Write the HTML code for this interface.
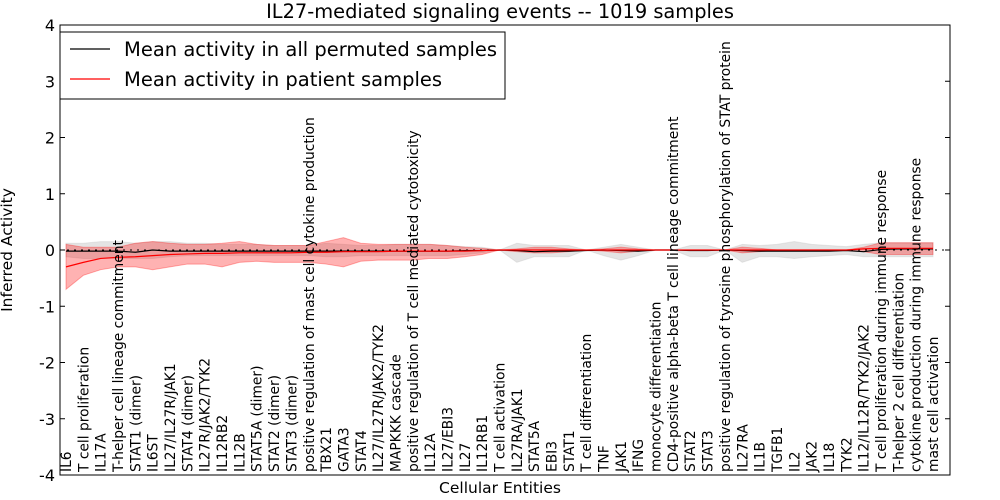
<!DOCTYPE html>
<html><head><meta charset="utf-8"><style>
body{margin:0;background:#fff;}
svg{display:block;font-family:"DejaVu Sans","Liberation Sans",sans-serif;}
</style></head><body>
<svg id="chart" width="1000" height="500"></svg>
<script>
const categories=["IL6","T cell proliferation","IL17A","T-helper cell lineage commitment","STAT1 (dimer)","IL6ST","IL27/IL27R/JAK1","STAT4 (dimer)","IL27R/JAK2/TYK2","IL12RB2","IL12B","STAT5A (dimer)","STAT2 (dimer)","STAT3 (dimer)","positive regulation of mast cell cytokine production","TBX21","GATA3","STAT4","IL27/IL27R/JAK2/TYK2","MAPKKK cascade","positive regulation of T cell mediated cytotoxicity","IL12A","IL27/EBI3","IL27","IL12RB1","T cell activation","IL27RA/JAK1","STAT5A","EBI3","STAT1","T cell differentiation","TNF","JAK1","IFNG","monocyte differentiation","CD4-positive alpha-beta T cell lineage commitment","STAT2","STAT3","positive regulation of tyrosine phosphorylation of STAT protein","IL27RA","IL1B","TGFB1","IL2","JAK2","IL18","TYK2","IL12/IL12R/TYK2/JAK2","T cell proliferation during immune response","T-helper 2 cell differentiation","cytokine production during immune response","mast cell activation"];
const redMean=[-0.3,-0.22,-0.15,-0.13,-0.12,-0.1,-0.08,-0.07,-0.06,-0.06,-0.05,-0.05,-0.05,-0.05,-0.04,-0.04,-0.03,-0.03,-0.03,-0.02,-0.02,-0.02,-0.02,-0.02,-0.01,0,0,0,0,0,0,0,0,0,0,0,0,0,0,0,0,0,0,0,0,0,0.02,0.03,0.03,0.03,0.03];
const redUp=[0.1,0.05,0.05,0.05,0.12,0.15,0.12,0.1,0.1,0.12,0.15,0.1,0.08,0.08,0.08,0.15,0.22,0.12,0.1,0.1,0.1,0.1,0.08,0.05,0.03,0,0.02,0.05,0.05,0.02,0,0.02,0.05,0.02,0,0,0,0,0,0.05,0.03,0,0,0,0,0,0.05,0.13,0.13,0.13,0.13];
const redLo=[-0.7,-0.45,-0.35,-0.3,-0.3,-0.35,-0.3,-0.25,-0.25,-0.3,-0.22,-0.2,-0.22,-0.22,-0.22,-0.25,-0.3,-0.2,-0.18,-0.18,-0.18,-0.15,-0.15,-0.12,-0.08,0,-0.03,-0.05,-0.05,-0.03,0,-0.02,-0.05,-0.02,0,0,0,0,0,-0.05,-0.03,0,0,0,0,0,-0.03,-0.08,-0.08,-0.08,-0.08];
const grayMean=[-0.02,-0.02,-0.02,-0.02,-0.04,0,-0.02,-0.02,-0.02,-0.02,-0.02,-0.02,-0.02,-0.02,-0.02,-0.02,-0.02,-0.02,-0.02,-0.02,-0.02,-0.02,-0.02,-0.01,-0.01,0,-0.01,-0.03,-0.02,-0.02,-0.01,0,-0.01,-0.02,0,0,-0.01,-0.01,0,-0.01,-0.02,-0.02,-0.02,-0.02,-0.02,-0.01,-0.03,0.01,0.02,0.02,0.02];
const grayUp=[0.12,0.12,0.15,0.15,0.12,0.15,0.15,0.12,0.12,0.1,0.1,0.1,0.08,0.08,0.08,0.12,0.1,0.08,0.08,0.1,0.1,0.1,0.08,0.06,0.05,0,0.12,0.08,0.08,0.08,0,0.05,0.1,0.05,0,0,0.08,0.08,0,0.1,0.08,0.1,0.15,0.1,0.08,0.06,0.1,0.13,0.13,0.13,0.13];
const grayLo=[-0.12,-0.15,-0.15,-0.15,-0.15,-0.15,-0.12,-0.1,-0.1,-0.1,-0.1,-0.1,-0.1,-0.1,-0.1,-0.12,-0.12,-0.1,-0.1,-0.1,-0.1,-0.1,-0.1,-0.08,-0.05,0,-0.22,-0.12,-0.12,-0.12,0,-0.1,-0.18,-0.1,0,0,-0.12,-0.12,0,-0.22,-0.12,-0.12,-0.15,-0.12,-0.1,-0.08,-0.12,-0.12,-0.12,-0.12,-0.12];
const yTicks=[-4,-3,-2,-1,0,1,2,3,4];
const NS="http://www.w3.org/2000/svg";
const svg=document.getElementById('chart');
const L=60,R=950,T=25,B=475;
const xs=i=>66+i*(933-66)/(categories.length-1);
const ys=v=>250-v*(B-T)/8;
function mk(t,a,p){const e=document.createElementNS(NS,t);for(const k in a)e.setAttribute(k,a[k]);(p||svg).appendChild(e);return e;}
function band(up,lo,fill,op,name){let d='M'+up.map((v,i)=>xs(i)+','+ys(v)).join('L');for(let i=lo.length-1;i>=0;i--)d+='L'+xs(i)+','+ys(lo[i]);d+='Z';const e=mk('path',{d:d,fill:fill,'fill-opacity':op,stroke:fill,'stroke-opacity':0.3});

}
band(grayUp,grayLo,'#bbbbbb',0.4,'permuted-band');
band(redUp,redLo,'#ff0000',0.3,'patient-band');
const z=mk('line',{x1:L,x2:R,y1:ys(0),y2:ys(0),stroke:'#000','stroke-dasharray':'2,5'});


function line(arr,col,name){const e=mk('path',{d:'M'+arr.map((v,i)=>xs(i)+','+ys(v)).join('L'),fill:'none',stroke:col,'stroke-width':1.2});

}
line(grayMean,'#000','permuted-mean-line');
line(redMean,'#ff0000','patient-mean-line');
const fr=mk('rect',{x:L,y:T,width:R-L,height:B-T,fill:'none',stroke:'#000'});


yTicks.forEach(v=>{mk('line',{x1:L,x2:L+5,y1:ys(v),y2:ys(v),stroke:'#000'});mk('line',{x1:R-5,x2:R,y1:ys(v),y2:ys(v),stroke:'#000'});
const t=mk('text',{x:L-5,y:ys(v)+6,'text-anchor':'end','font-size':16});t.textContent=v;

});
categories.forEach((c,i)=>{const t=mk('text',{transform:`translate(${xs(i)+5},${B-3}) rotate(-90)`,'font-size':13.8});t.textContent=c;

});
let t=mk('text',{x:500,y:18,'text-anchor':'middle','font-size':19.4});t.textContent='IL27-mediated signaling events -- 1019 samples';


t=mk('text',{x:500,y:493,'text-anchor':'middle','font-size':15.5});t.textContent='Cellular Entities';


t=mk('text',{transform:'translate(12,250) rotate(-90)','text-anchor':'middle','font-size':15.5});t.textContent='Inferred Activity';


const lg=mk('g',{});


mk('rect',{x:60,y:32,width:445,height:67,fill:'#fff',stroke:'#000'},lg);
[['Mean activity in all permuted samples','#000',49],['Mean activity in patient samples','#ff0000',79]].forEach(([s,c,y])=>{mk('line',{x1:70,x2:110,y1:y,y2:y,stroke:c,'stroke-width':1.2},lg);const e=mk('text',{x:124,y:y+7,'font-size':19.5},lg);e.textContent=s;

});
</script>
</body></html>
